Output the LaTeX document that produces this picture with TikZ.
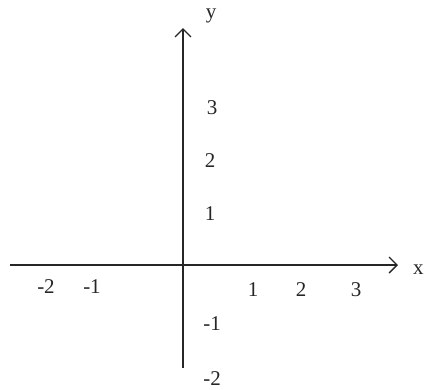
\documentclass[tikz,border=0pt]{standalone}
\usepackage{fontspec}
\setmainfont{Liberation Serif}
\usetikzlibrary{arrows.meta}
\begin{document}
\begin{tikzpicture}[x=1pt,y=-1pt,
  axis/.style={line width=1.6pt,color=black!85,-{Straight Barb[length=8pt,width=16pt,line width=1.4pt]}},
  lab/.style={font=\fontsize{21}{22}\selectfont,text=black!85,inner sep=0pt}]
\useasboundingbox (0,0) rectangle (425,389);
\coordinate (xs) at (10,265);
\coordinate (xe) at (398,265);
\coordinate (ys) at (183,368);
\coordinate (ye) at (183,28);
\draw[axis] (xs) -- (xe);
\draw[axis] (ys) -- (ye);
\node[lab] (ly) at (211,16) {y};
\node[lab,anchor=west] (lx) at (413,270) {x};
\node[lab] (y3) at (212,108) {3};
\node[lab] (y2) at (210,161) {2};
\node[lab] (y1) at (210,214) {1};
\node[lab] (ym1) at (212,324) {-1};
\node[lab] (ym2) at (212,379) {-2};
\node[lab] (xm2) at (46,287) {-2};
\node[lab] (xm1) at (92,287) {-1};
\node[lab] (x1) at (253,290) {1};
\node[lab] (x2) at (301,290) {2};
\node[lab] (x3) at (356,290) {3};
\end{tikzpicture}
\end{document}
